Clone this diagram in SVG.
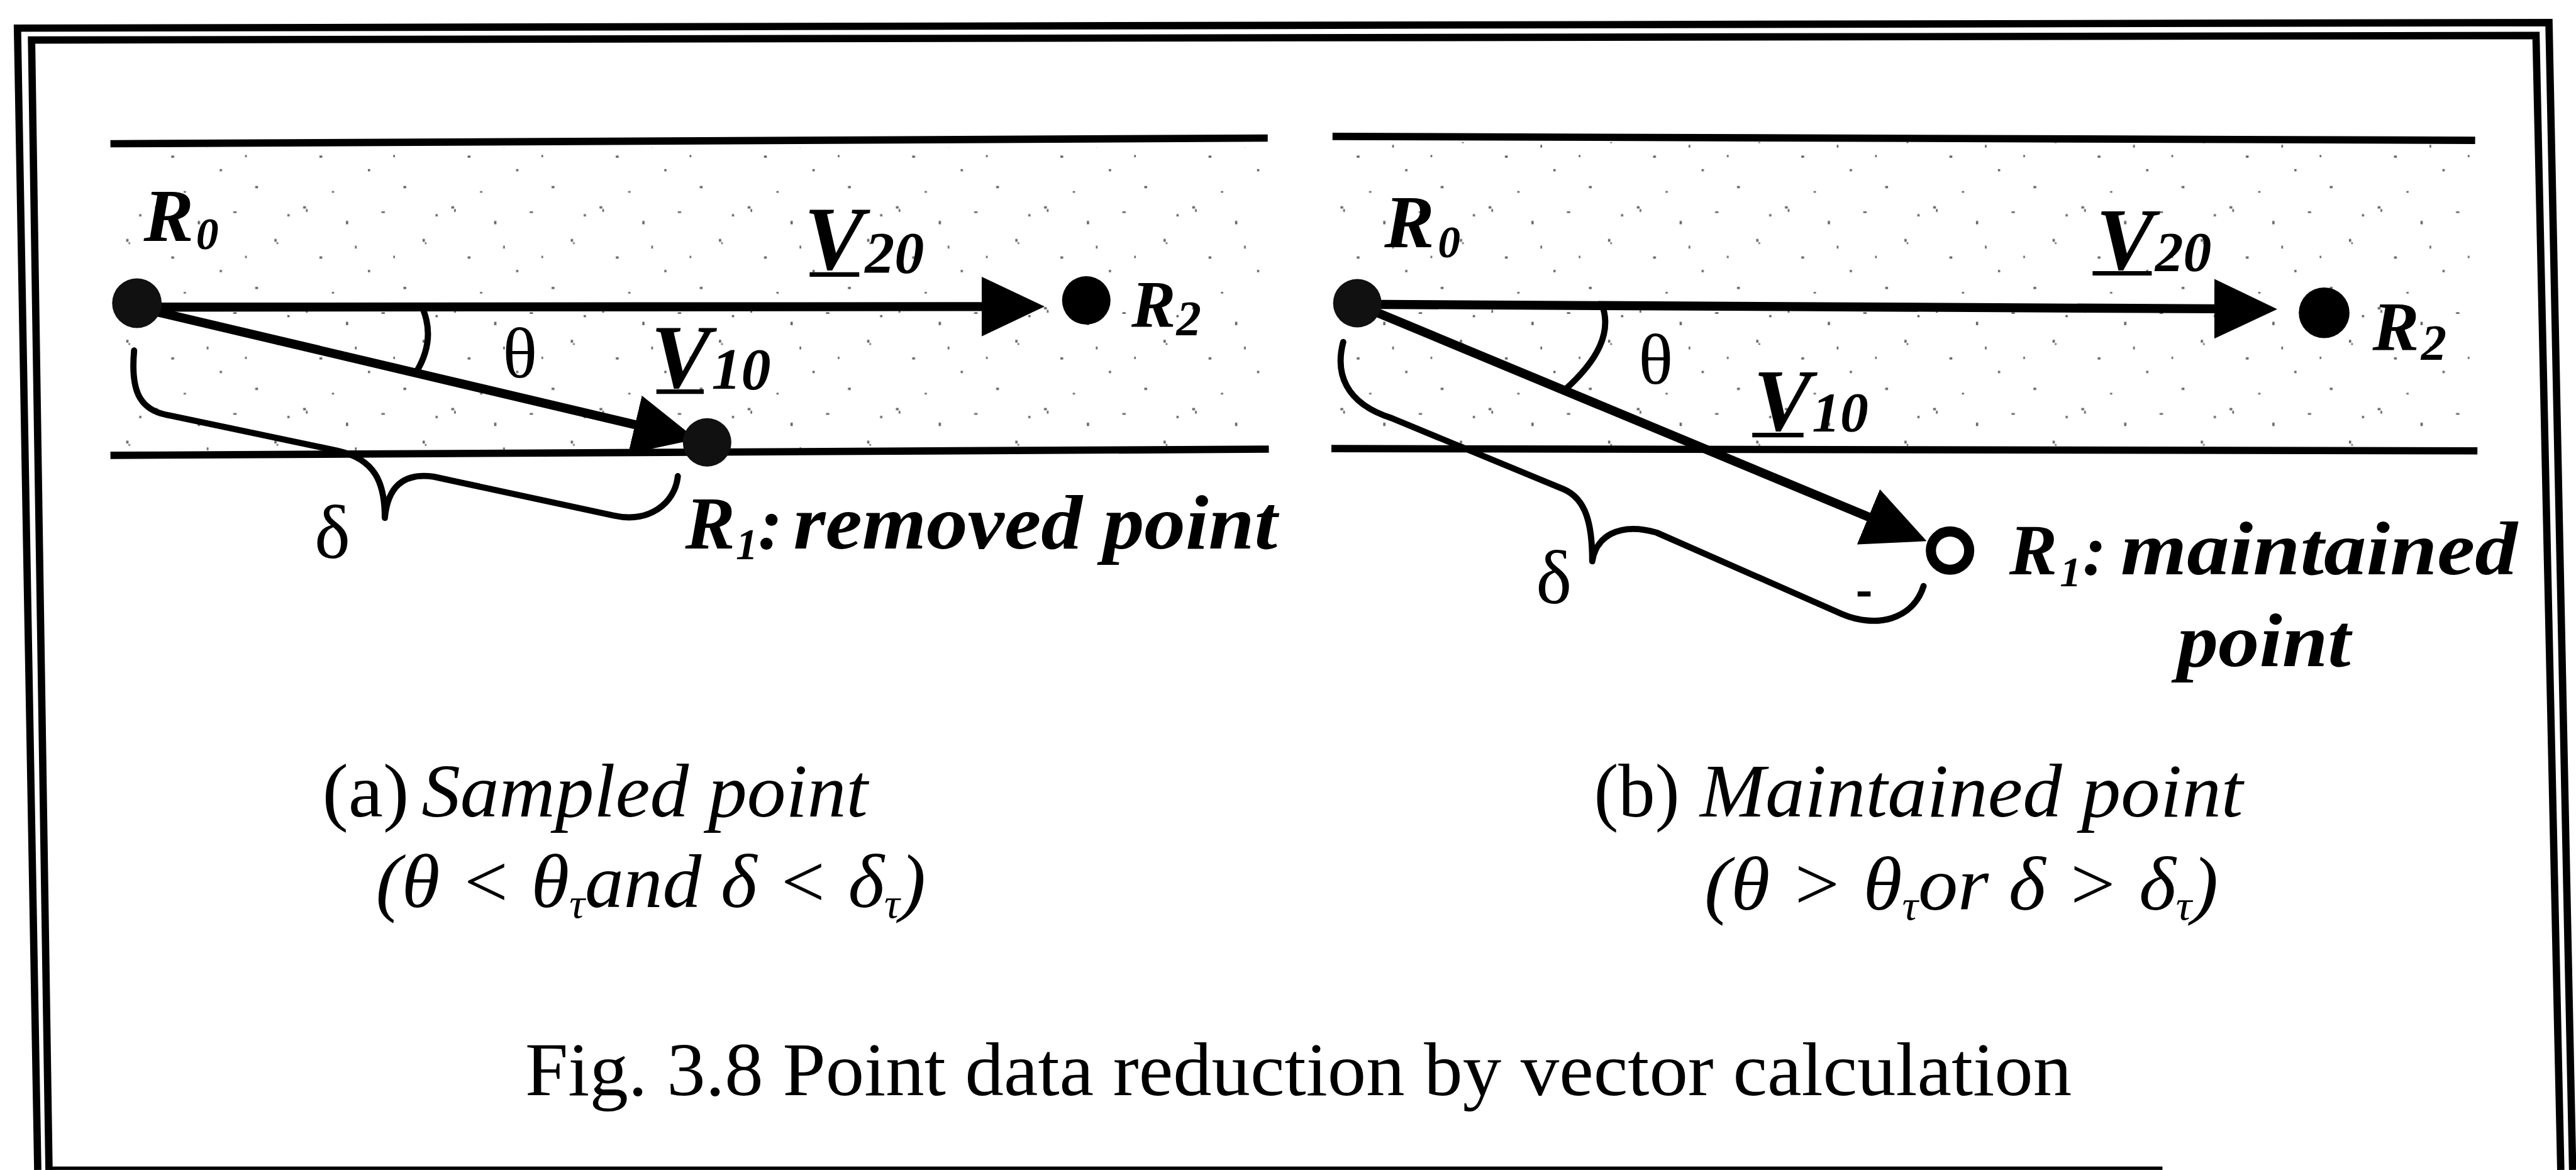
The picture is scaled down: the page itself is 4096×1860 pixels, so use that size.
<svg xmlns="http://www.w3.org/2000/svg" width="4096" height="1860" viewBox="0 0 4096 1860">
<defs>
<style>
.frame{stroke:#000;stroke-width:13;fill:none;stroke-linejoin:miter}
.band{stroke:#000;stroke-width:13;fill:none}
.vec{stroke:#000;stroke-width:16;fill:none}
.thin{stroke:#000;stroke-width:11;fill:none;stroke-linecap:round;stroke-linejoin:round}
.uline{stroke:#000;stroke-width:8}
.lbl{font-family:"Liberation Serif","Times New Roman",serif;font-weight:bold;font-style:italic;fill:#000}
.gk{font-family:"Liberation Serif","Times New Roman",serif;fill:#000}
.cap{font-family:"Liberation Serif","Times New Roman",serif;fill:#000;font-size:134px}
.it{font-style:italic}
.dot{fill:#111}
</style>
<marker id="ah" markerUnits="userSpaceOnUse" viewBox="0 0 112 106" markerWidth="112" markerHeight="106" refX="2" refY="53" orient="auto">
<path d="M0,0 L112,53 L0,106 z" fill="#000"/>
</marker>
<pattern id="speck" patternUnits="userSpaceOnUse" width="263" height="179">
<g fill="#000" fill-opacity="0.6">
<rect x="12" y="8" width="5" height="4"/>
<rect x="17" y="13" width="3" height="5"/>
<rect x="88" y="34" width="4" height="6"/>
<rect x="151" y="17" width="6" height="3"/>
<rect x="224" y="66" width="4" height="5"/>
<rect x="228" y="72" width="3" height="3"/>
<rect x="41" y="97" width="5" height="4"/>
<rect x="127" y="121" width="4" height="4"/>
<rect x="190" y="151" width="5" height="4"/>
<rect x="104" y="78" width="3" height="5"/>
<rect x="247" y="22" width="4" height="4"/>
<rect x="63" y="160" width="4" height="3"/>
<rect x="172" y="96" width="3" height="4"/>
</g>
</pattern>
</defs>
<rect width="4096" height="1860" fill="#fff"/>
<g transform="scale(0.89589)">
<g id="frame">
<path class="frame" d="M67,2076 L31,50 L4524,40 L4566,2076"/>
<path class="frame" d="M87,2076 L56,71 L4501,63 L4545,2076"/>
<rect x="88" y="2070" width="3750" height="6" fill="#000"/>
</g>
<g id="bands">
<rect x="200" y="262" width="2045" height="538" fill="url(#speck)"/>
<rect x="2370" y="252" width="2020" height="540" fill="url(#speck)"/>
<line class="band" x1="196" y1="255" x2="2250" y2="245"/>
<line class="band" x1="196" y1="808" x2="2252" y2="797"/>
<line class="band" x1="2365" y1="242" x2="4393" y2="249"/>
<line class="band" x1="2363" y1="796" x2="4397" y2="800"/>
</g>
<g id="connectors">
<line class="vec" x1="243" y1="545" x2="1744" y2="544" marker-end="url(#ah)"/>
<line class="vec" x1="243" y1="545" x2="1129" y2="754" marker-end="url(#ah)"/>
<path class="thin" d="M752,552 Q772,605 739,660"/>
<path class="thin" d="M238,622 C232,690 245,728 300,737 L600,800 C665,815 683,855 683,919 C688,865 715,838 770,846 L1090,915 C1150,928 1198,895 1203,845"/>
<line class="vec" x1="2409" y1="540" x2="3932" y2="548" marker-end="url(#ah)"/>
<line class="vec" x1="2409" y1="540" x2="3318" y2="918" marker-end="url(#ah)"/>
<path class="thin" d="M2843,540 C2862,590 2835,640 2777,692"/>
<path class="thin" d="M2384,607 C2370,660 2385,715 2470,742 L2775,868 C2815,885 2826,930 2826,996 C2832,955 2870,925 2940,945 L3270,1090 C3330,1115 3395,1100 3414,1040"/>
<line x1="3297" y1="1054" x2="3320" y2="1054" stroke="#000" stroke-width="9"/>
</g>
<g id="a-R0">
<circle class="dot" cx="243" cy="538" r="44"/>
<text class="lbl" x="255" y="428" font-size="133">R</text>
<text class="lbl" x="348" y="442" font-size="80">0</text>
</g>
<g id="a-R1">
<circle class="dot" cx="1255" cy="785" r="43"/>
<text class="lbl" x="1216" y="973" font-size="133">R</text>
<text class="lbl" x="1306" y="992" font-size="78">1</text>
<text class="lbl" x="1345" y="973" font-size="133">:</text>
<text class="lbl" x="1408" y="973" font-size="138" textLength="859" lengthAdjust="spacingAndGlyphs">removed point</text>
</g>
<g id="a-R2">
<circle fill="#000" cx="1928" cy="533" r="43"/>
<text class="lbl" x="2008" y="579" font-size="118">R</text>
<text class="lbl" x="2088" y="594" font-size="88">2</text>
</g>
<g id="a-labels">
<text class="lbl" x="1427" y="478" font-size="160">V</text>
<text class="lbl" x="1535" y="483" font-size="105">20</text>
<line class="uline" x1="1437" y1="487" x2="1525" y2="487"/>
<text class="lbl" x="1155" y="688" font-size="160">V</text>
<text class="lbl" x="1263" y="690" font-size="105">10</text>
<line class="uline" x1="1165" y1="695" x2="1249" y2="695"/>
<text class="gk" x="892" y="670" font-size="128">θ</text>
<text class="gk" x="558" y="990" font-size="135">δ</text>
</g>
<g id="b-R0">
<circle class="dot" cx="2409" cy="538" r="43"/>
<text class="lbl" x="2457" y="439" font-size="133">R</text>
<text class="lbl" x="2552" y="456" font-size="80">0</text>
</g>
<g id="b-R1">
<circle cx="3461" cy="977" r="34" fill="#fff" stroke="#000" stroke-width="18"/>
<text class="lbl" x="3566" y="1019" font-size="128">R</text>
<text class="lbl" x="3656" y="1040" font-size="76">1</text>
<text class="lbl" x="3696" y="1019" font-size="128">:</text>
<text class="lbl" x="3764" y="1019" font-size="134" textLength="704" lengthAdjust="spacingAndGlyphs">maintained</text>
<text class="lbl" x="3864" y="1182" font-size="134" textLength="308" lengthAdjust="spacingAndGlyphs">point</text>
</g>
<g id="b-R2">
<circle fill="#000" cx="4125" cy="555" r="45"/>
<text class="lbl" x="4211" y="622" font-size="124">R</text>
<text class="lbl" x="4297" y="638" font-size="90">2</text>
</g>
<g id="b-labels">
<text class="lbl" x="3720" y="478" font-size="155">V</text>
<text class="lbl" x="3825" y="480" font-size="100">20</text>
<line class="uline" x1="3714" y1="485" x2="3819" y2="485"/>
<text class="lbl" x="3112" y="763" font-size="155">V</text>
<text class="lbl" x="3216" y="765" font-size="100">10</text>
<line class="uline" x1="3110" y1="772" x2="3201" y2="772"/>
<text class="gk" x="2908" y="681" font-size="128">θ</text>
<text class="gk" x="2726" y="1070" font-size="135">δ</text>
</g>
<g id="captions">
<text class="cap" x="572" y="1449" textLength="154" lengthAdjust="spacingAndGlyphs">(a)</text>
<text class="cap it" x="748" y="1449" textLength="792" lengthAdjust="spacingAndGlyphs">Sampled point</text>
<text class="cap it" x="667" y="1610" textLength="976" lengthAdjust="spacingAndGlyphs">(θ &lt; θ<tspan font-size="75" dy="18">τ</tspan><tspan dy="-18">and δ &lt; δ</tspan><tspan font-size="75" dy="18">τ</tspan><tspan dy="-18">)</tspan></text>
<text class="cap" x="2829" y="1449" textLength="152" lengthAdjust="spacingAndGlyphs">(b)</text>
<text class="cap it" x="3017" y="1449" textLength="964" lengthAdjust="spacingAndGlyphs">Maintained point</text>
<text class="cap it" x="3025" y="1614" textLength="912" lengthAdjust="spacingAndGlyphs">(θ &gt; θ<tspan font-size="75" dy="18">τ</tspan><tspan dy="-18">or δ &gt; δ</tspan><tspan font-size="75" dy="18">τ</tspan><tspan dy="-18">)</tspan></text>
<text class="cap" x="932" y="1943" font-size="152" textLength="2745" lengthAdjust="spacingAndGlyphs">Fig. 3.8 Point data reduction by vector calculation</text>
</g>
</g>
</svg>
